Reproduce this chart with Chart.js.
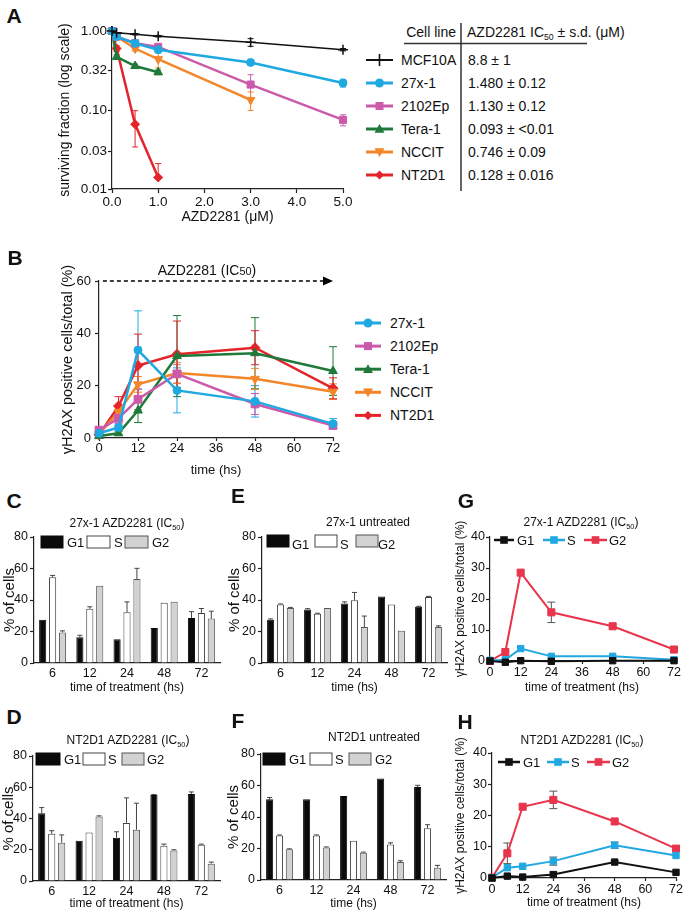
<!DOCTYPE html>
<html>
<head>
<meta charset="utf-8">
<title>AZD2281 figure</title>
<script src="https://cdn.jsdelivr.net/npm/chart.js@4/dist/chart.umd.min.js"></script>
<style>
html,body{margin:0;padding:0;background:#fff}
body{position:relative;width:686px;height:914px;overflow:hidden;font-family:'Liberation Sans',Arial,Helvetica,sans-serif;color:#111}
canvas{position:absolute}
.tx{position:absolute;white-space:nowrap;line-height:1}
.pl{position:absolute;font-weight:bold;font-size:21px;line-height:1;transform:translate(-50%,-50%)}
sub{font-size:0.62em;vertical-align:-0.35em;line-height:0}
.sm{font-size:0.78em}
#ov{position:absolute;left:0;top:0;pointer-events:none}
</style>
</head>
<body>
<svg id="ov" width="686" height="914"></svg>
<script>
// ---------------- Panel A data ----------------
const aDoses = [0, 0.1, 0.5, 1, 3, 5];
const aLines = ['MCF10A', '27x-1', '2102Ep', 'Tera-1', 'NCCIT', 'NT2D1'];
const aIC50 = ['8.8 ± 1', '1.480 ± 0.12', '1.130 ± 0.12', '0.093 ± <0.01', '0.746 ± 0.09', '0.128 ± 0.016'];
const survMCF10A = [1.00, 0.95, 0.91, 0.86, 0.72, 0.58];
const survMCF10AErr = [0, 0, 0.02, 0.02, 0.08, 0.02];
const surv27x1 = [1.00, 0.85, 0.70, 0.58, 0.40, 0.22];
const surv27x1Err = [0, 0, 0.04, 0.05, 0.03, 0.025];
const surv2102Ep = [1.00, 0.85, 0.70, 0.63, 0.21, 0.075];
const surv2102EpErr = [0, 0, 0.03, 0.05, 0.07, 0.012];
const survTera1 = [1.00, 0.47, 0.36, 0.30, null, null];
const survTera1Err = [0, 0.03, 0.02, 0.02, null, null];
const survNCCIT = [1.00, 0.85, 0.60, 0.44, 0.134, null];
const survNCCITErr = [0, 0.05, 0.04, 0.10, 0.035, null];
const survNT2D1 = [1.00, 0.60, 0.066, 0.014, null, null];
const survNT2D1Err = [0, 0.05, 0.032, 0.007, null, null];
const aYTicks = [0.01, 0.03, 0.10, 0.32, 1.00];
const aYTickLabels = ['0.01', '0.03', '0.10', '0.32', '1.00'];

// ---------------- Panel B data ----------------
const bTimes = [0, 6, 12, 24, 48, 72];
const bLines = ['27x-1', '2102Ep', 'Tera-1', 'NCCIT', 'NT2D1'];
const gh27x1 = [1.8, 4.0, 33.6, 18.2, 14.0, 5.4];
const gh27x1Err = [0.5, 1.0, 15.0, 8.6, 6.0, 2.0];
const gh2102Ep = [3.0, 7.5, 14.8, 24.5, 13.0, 4.8];
const gh2102EpErr = [0.8, 2.0, 4.0, 3.5, 4.0, 1.0];
const ghTera1 = [0.8, 1.8, 10.5, 31.3, 32.4, 25.6];
const ghTera1Err = [0.3, 0.8, 4.6, 15.5, 13.6, 9.3];
const ghNCCIT = [1.5, 10.0, 20.5, 24.8, 22.6, 17.7];
const ghNCCITErr = [0.5, 2.0, 3.0, 4.0, 4.0, 3.0];
const ghNT2D1 = [1.2, 12.2, 27.7, 32.0, 34.5, 19.0];
const ghNT2D1Err = [0.5, 3.6, 12.0, 12.7, 6.5, 4.0];

// ---------------- Panels C-F data (cell cycle, % of cells) ----------------
const timeCats = ['6', '12', '24', '48', '72'];
const phases = ['G1', 'S', 'G2'];
const cG1 = [27.5, 16.3, 15.1, 22.2, 28.6];
const cG1Err = [0, 1.3, 0, 0, 4.0];
const cS = [54.4, 34.4, 32.3, 38.3, 31.8];
const cSErr = [1.2, 1.3, 6.5, 0, 2.8];
const cG2 = [19.4, 49.0, 53.3, 38.9, 28.2];
const cG2Err = [1.0, 0, 6.8, 0, 4.7];

const eG1 = [27.5, 34.0, 37.8, 42.2, 35.7];
const eG1Err = [0.5, 0.5, 1.0, 0, 0.3];
const eS = [37.2, 31.2, 39.8, 37.2, 41.9];
const eSErr = [0.3, 0.4, 5.0, 0, 0.4];
const eG2 = [35.0, 35.0, 22.8, 20.4, 22.8];
const eG2Err = [0.3, 0, 7.0, 0, 0.8];

const dG1 = [43.4, 25.7, 27.7, 55.1, 55.7];
const dG1Err = [3.6, 0, 3.8, 0.3, 1.3];
const dS = [30.2, 31.1, 37.2, 22.6, 23.2];
const dSErr = [2.0, 0, 16.0, 1.0, 0.4];
const dG2 = [24.5, 41.3, 32.8, 19.6, 11.1];
const dG2Err = [5.0, 0.4, 17.0, 0.4, 1.0];

const fG1 = [51.2, 51.2, 53.3, 64.4, 59.1];
const fG1Err = [1.2, 0, 0, 0, 1.0];
const fS = [28.3, 28.3, 25.0, 22.6, 32.8];
const fSErr = [0.3, 0.3, 0, 1.0, 2.3];
const fG2 = [19.5, 20.7, 17.3, 11.4, 7.8];
const fG2Err = [0.3, 0.3, 0.4, 0.8, 1.5];

// ---------------- Panels G-H data ----------------
const ghTimes = [0, 6, 12, 24, 48, 72];
const gG1 = [0, -0.4, 0.1, -0.1, 0.1, 0.1];
const gG1Err = [0, 0, 0, 0, 0, 0];
const gS = [0.2, 0.4, 4.0, 1.5, 1.5, 0.4];
const gSErr = [0, 0, 0, 0, 0, 0];
const gG2 = [0, 2.9, 28.5, 15.7, 11.2, 3.7];
const gG2Err = [0, 0, 0, 3.3, 0, 0];

const hG1 = [0, 0.6, 0.3, 1.1, 5.1, 1.8];
const hG1Err = [0, 0, 0, 0.8, 0.5, 0];
const hS = [0.1, 3.3, 3.75, 5.4, 10.5, 7.2];
const hSErr = [0, 0, 0, 1.3, 1.0, 0];
const hG2 = [0.1, 7.9, 22.8, 25.0, 18.1, 9.4];
const hG2Err = [0, 3.3, 0, 2.8, 0, 0];

// ---------------- helpers ----------------
Chart.defaults.font.family = "'Liberation Sans', Arial, Helvetica, sans-serif";
Chart.defaults.color = '#111';
Chart.defaults.animation = false;
const AXC = '#222';

const errPlugin = {
  id: 'errbars',
  beforeDatasetsDraw(chart) {
    const ctx = chart.ctx;
    const ys = chart.scales.y;
    chart.data.datasets.forEach((ds, i) => {
      const meta = chart.getDatasetMeta(i);
      ctx.save();
      ctx.strokeStyle = ds.errColor || '#444';
      ctx.lineWidth = ds.errWidth || 1;
      const cap = ds.errCap || 3;
      meta.data.forEach((el, j) => {
        const raw = ds.data[j];
        let v, e;
        if (raw && typeof raw === 'object') { v = raw.y; e = raw.e; }
        else { v = raw; e = ds.errors ? ds.errors[j] : 0; }
        if (v == null || !e) return;
        const x = el.x;
        const yv = ys.getPixelForValue(v);
        const yt = ys.getPixelForValue(v + e);
        let yb = yv, low = false;
        const lo = v - e;
        if (!ds.errUpOnly) {
          if (ys.type !== 'logarithmic' || lo >= ys.min) { yb = ys.getPixelForValue(lo); low = true; }
        }
        ctx.beginPath();
        ctx.moveTo(x, yt); ctx.lineTo(x, yb);
        ctx.moveTo(x - cap, yt); ctx.lineTo(x + cap, yt);
        if (low) { ctx.moveTo(x - cap, yb); ctx.lineTo(x + cap, yb); }
        ctx.stroke();
      });
      ctx.restore();
    });
  }
};

function axis(o) {
  const dt = o.drawTicks !== false;
  const a = {
    type: o.type, min: o.min, max: o.max,
    border: {display: true, color: AXC, width: 1.2},
    grid: {display: dt, drawOnChartArea: false, drawTicks: dt, tickLength: o.tl || 4, color: AXC, tickColor: AXC, tickWidth: 1.2},
    ticks: {font: {size: o.size}, padding: o.pad, color: '#111', maxRotation: 0, autoSkip: false},
    title: o.title ? {display: true, text: o.title, font: {size: o.tsize}, padding: 0, color: '#111'} : {display: false}
  };
  if (o.step) a.ticks.stepSize = o.step;
  if (o.offset !== undefined) a.offset = o.offset;
  return a;
}

function makeChart(g, type, datasets, scales, labels, extraPlugins) {
  const c = document.createElement('canvas');
  const W = g.cr - g.cl, H = g.cb - g.ct;
  c.style.left = g.cl + 'px'; c.style.top = g.ct + 'px';
  c.style.width = W + 'px'; c.style.height = H + 'px';
  c.width = W; c.height = H;
  document.body.appendChild(c);
  scales.x.afterFit = s => { s.height = g.cb - g.pb; };
  scales.y.afterFit = s => { s.width = g.pl - g.cl; };
  return new Chart(c, {
    type,
    data: labels ? {labels, datasets} : {datasets},
    options: {
      responsive: false, maintainAspectRatio: false, animation: false,
      layout: {padding: {top: g.pt - g.ct, right: g.cr - g.pr, left: 0, bottom: 0}},
      plugins: {legend: {display: false}, tooltip: {enabled: false}, title: {display: false}},
      scales
    },
    plugins: [errPlugin].concat(extraPlugins || [])
  });
}

function pts(xs, ys, es) {
  const out = [];
  xs.forEach((x, i) => { if (ys[i] != null) out.push({x: x, y: ys[i], e: es ? es[i] : 0}); });
  return out;
}

function lineDS(label, xs, ys, es, st) {
  return {
    label, data: pts(xs, ys, es),
    borderColor: st.color, backgroundColor: st.color, borderWidth: st.lw,
    pointStyle: st.ps, pointRotation: st.rot || 0, pointRadius: st.r,
    pointBackgroundColor: st.color, pointBorderColor: st.color, pointBorderWidth: st.pbw || 1,
    tension: 0, clip: false, spanGaps: true,
    errColor: st.ec || st.color, errWidth: 1, errCap: st.cap || 3
  };
}

const barStyles = {
  G1: {fill: '#0a0a0a', stroke: '#0a0a0a'},
  S: {fill: '#ffffff', stroke: '#444'},
  G2: {fill: '#d2d2d2', stroke: '#555'}
};
function barDS(label, vals, errs) {
  const st = barStyles[label];
  return {label, data: vals, errors: errs, backgroundColor: st.fill, borderColor: st.stroke, borderWidth: 1,
    errUpOnly: true, errColor: '#444', errCap: 2.5, barPercentage: 0.72, categoryPercentage: 0.8};
}

function T(x, y, html, size, anchor, weight) {
  const d = document.createElement('div');
  d.className = 'tx'; d.innerHTML = html;
  d.style.fontSize = size + 'px';
  d.style.left = x + 'px'; d.style.top = y + 'px';
  if (weight) d.style.fontWeight = weight;
  const tx = anchor === 'l' ? '0' : (anchor === 'r' ? '-100%' : '-50%');
  d.style.transform = 'translate(' + tx + ',-50%)';
  document.body.appendChild(d);
}
function P(x, y, ch) {
  const d = document.createElement('div');
  d.className = 'pl'; d.textContent = ch;
  d.style.left = x + 'px'; d.style.top = y + 'px';
  document.body.appendChild(d);
}

let svg = '';
function svgMarker(style, x, y, r, color, lw) {
  switch (style) {
    case 'circle': return `<circle cx="${x}" cy="${y}" r="${r}" fill="${color}"/>`;
    case 'rect': return `<rect x="${x - r}" y="${y - r}" width="${2 * r}" height="${2 * r}" fill="${color}"/>`;
    case 'triangle': return `<polygon points="${x},${y - r} ${x + r},${y + r * 0.75} ${x - r},${y + r * 0.75}" fill="${color}"/>`;
    case 'tridown': return `<polygon points="${x},${y + r} ${x + r},${y - r * 0.75} ${x - r},${y - r * 0.75}" fill="${color}"/>`;
    case 'diamond': return `<polygon points="${x},${y - r} ${x + r},${y} ${x},${y + r} ${x - r},${y}" fill="${color}"/>`;
    case 'cross': return `<path d="M${x} ${y - r}V${y + r}M${x - r} ${y}H${x + r}" stroke="${color}" stroke-width="${lw}"/>`;
  }
  return '';
}
function legLine(x1, x2, y, color, lw, style, r) {
  svg += `<line x1="${x1}" y1="${y}" x2="${x2}" y2="${y}" stroke="${color}" stroke-width="${lw}"/>`;
  svg += svgMarker(style, (x1 + x2) / 2, y, r, color, 1.6);
}
function legBox(x, y, w, h, name) {
  const st = barStyles[name];
  svg += `<rect x="${x}" y="${y}" width="${w}" height="${h}" fill="${st.fill}" stroke="${st.stroke}" stroke-width="1"/>`;
}

// ---------------- Panel A ----------------
const aStyles = [
  {color: '#111111', lw: 1.5, ps: 'cross', r: 5, pbw: 1.5, lr: 6, ls: 'cross'},
  {color: '#1ea9e1', lw: 2.5, ps: 'circle', r: 4, lr: 4.5, ls: 'circle'},
  {color: '#cc5aab', lw: 2.5, ps: 'rect', r: 5, lr: 4, ls: 'rect'},
  {color: '#1f7a3a', lw: 2.5, ps: 'triangle', r: 5, lr: 5, ls: 'triangle'},
  {color: '#f4862a', lw: 2.5, ps: 'triangle', rot: 180, r: 5, lr: 5, ls: 'tridown'},
  {color: '#e4242b', lw: 2.5, ps: 'rectRot', r: 4.5, lr: 4.5, ls: 'diamond'}
];
const aY = [survMCF10A, surv27x1, surv2102Ep, survTera1, survNCCIT, survNT2D1];
const aE = [survMCF10AErr, surv27x1Err, surv2102EpErr, survTera1Err, survNCCITErr, survNT2D1Err];
const aGeo = {cl: 57, ct: 12, cr: 360, cb: 226, pl: 112, pt: 31, pr: 343, pb: 189};
const aX = axis({type: 'linear', min: 0, max: 5, step: 1, size: 13.5, pad: 1, tl: 4, title: 'AZD2281 (\u03BCM)', tsize: 14});
aX.ticks.callback = v => Number(v).toFixed(1);
const aYAx = axis({type: 'logarithmic', min: 0.01, max: 1, size: 13.5, pad: 1, tl: 4, title: 'surviving fraction (log scale)', tsize: 14});
aYAx.afterBuildTicks = s => { s.ticks = aYTicks.map(v => ({value: v})); };
aYAx.ticks.callback = v => { const i = aYTicks.indexOf(v); return i >= 0 ? aYTickLabels[i] : ''; };
makeChart(aGeo, 'line', aLines.map((n, i) => lineDS(n, aDoses, aY[i], aE[i], aStyles[i])), {x: aX, y: aYAx});

// table legend for A
T(456, 32, 'Cell line', 14, 'r');
T(467, 32, 'AZD2281 IC<sub>50</sub> \u00B1 s.d. (\u03BCM)', 14, 'l');
svg += `<line x1="461" y1="23" x2="461" y2="191" stroke="#333" stroke-width="1.5"/>`;
svg += `<line x1="404" y1="43.5" x2="587" y2="43.5" stroke="#333" stroke-width="1.5"/>`;
aLines.forEach((n, i) => {
  const y = 60 + 23 * i;
  const st = aStyles[i];
  legLine(366, 393, y, st.color, st.lw + 0.5, st.ls, st.lr);
  T(401, y, n, 14, 'l');
  T(468, y, aIC50[i], 14, 'l');
});

// ---------------- Panel B ----------------
const bStyles = aStyles.slice(1).map(s => Object.assign({}, s, {r: s.ps === 'circle' ? 4 : (s.ps === 'rect' ? 5.5 : 5)}));
const bY = [gh27x1, gh2102Ep, ghTera1, ghNCCIT, ghNT2D1];
const bE = [gh27x1Err, gh2102EpErr, ghTera1Err, ghNCCITErr, ghNT2D1Err];
const bGeo = {cl: 59, ct: 262, cr: 348, cb: 478, pl: 99, pt: 281, pr: 333, pb: 438};
const arrowPlugin = {
  id: 'treatArrow',
  afterDraw(chart) {
    const {ctx} = chart; const xs = chart.scales.x, ys = chart.scales.y;
    const x1 = xs.getPixelForValue(1.2), x2 = xs.getPixelForValue(72), yy = ys.getPixelForValue(60);
    ctx.save();
    ctx.strokeStyle = '#000'; ctx.lineWidth = 1.5; ctx.setLineDash([4, 3]);
    ctx.beginPath(); ctx.moveTo(x1, yy); ctx.lineTo(x2 - 8, yy); ctx.stroke();
    ctx.setLineDash([]); ctx.fillStyle = '#000';
    ctx.beginPath(); ctx.moveTo(x2, yy); ctx.lineTo(x2 - 10, yy - 4.5); ctx.lineTo(x2 - 10, yy + 4.5); ctx.closePath(); ctx.fill();
    ctx.restore();
  }
};
makeChart(bGeo, 'line',
  bLines.map((n, i) => Object.assign(lineDS(n, bTimes, bY[i], bE[i], bStyles[i]), {errColor: bStyles[i].color, errCap: 4})),
  {
    x: axis({type: 'linear', min: 0, max: 72, step: 12, size: 13, pad: 0, tl: 3, title: 'time (hs)', tsize: 13}),
    y: axis({type: 'linear', min: 0, max: 60, step: 20, size: 13, pad: 4, tl: 4, title: '\u03B3H2AX positive cells/total (%)', tsize: 14.5})
  }, null, [arrowPlugin]);
T(207, 270, 'AZD2281 (IC<span class="sm">50</span>)', 14, 'c');
bLines.forEach((n, i) => {
  const y = 323 + 23.1 * i;
  const st = aStyles[i + 1];
  legLine(355, 381, y, st.color, 3, st.ls, st.lr);
  T(390, y, n, 14, 'l');
});

// ---------------- Panels C, E, D, F (bars) ----------------
function barPanel(g, G1, G1e, S, Se, G2, G2e, xTitle) {
  makeChart(g, 'bar', [barDS('G1', G1, G1e), barDS('S', S, Se), barDS('G2', G2, G2e)], {
    x: axis({type: 'category', size: 12.5, pad: 3, drawTicks: false, title: xTitle, tsize: 12}),
    y: axis({type: 'linear', min: 0, max: 80, step: 20, size: 12.5, pad: 2, tl: 4, title: '% of cells', tsize: 15})
  }, timeCats);
}
barPanel({cl: 1, ct: 525, cr: 232, cb: 695, pl: 34, pt: 537, pr: 220, pb: 663}, cG1, cG1Err, cS, cSErr, cG2, cG2Err, 'time of treatment (hs)');
barPanel({cl: 226, ct: 525, cr: 458, cb: 695, pl: 262, pt: 537, pr: 447, pb: 663}, eG1, eG1Err, eS, eSErr, eG2, eG2Err, 'time (hs)');
barPanel({cl: 0, ct: 742, cr: 232, cb: 911, pl: 33, pt: 756, pr: 220, pb: 881}, dG1, dG1Err, dS, dSErr, dG2, dG2Err, 'time of treatment (hs)');
barPanel({cl: 225, ct: 742, cr: 458, cb: 911, pl: 261, pt: 754, pr: 446, pb: 880}, fG1, fG1Err, fS, fSErr, fG2, fG2Err, 'time (hs)');

function barLegend(items, y) {
  items.forEach(it => {
    legBox(it.bx, y - 6, it.bw, 12, it.name);
    T(it.tx, y + (it.dy || 0), it.name, 13, 'l');
  });
}
barLegend([{name: 'G1', bx: 41, bw: 22, tx: 67}, {name: 'S', bx: 87, bw: 23, tx: 114}, {name: 'G2', bx: 125, bw: 23, tx: 152}], 542);
barLegend([{name: 'G1', bx: 267, bw: 22, tx: 292, dy: 3}, {name: 'S', bx: 315, bw: 22, tx: 340, dy: 3}, {name: 'G2', bx: 356, bw: 22, tx: 378, dy: 3}], 541);
barLegend([{name: 'G1', bx: 36, bw: 24, tx: 64}, {name: 'S', bx: 83, bw: 22, tx: 108}, {name: 'G2', bx: 122, bw: 22, tx: 147}], 759);
barLegend([{name: 'G1', bx: 263, bw: 22, tx: 289}, {name: 'S', bx: 310, bw: 22, tx: 335}, {name: 'G2', bx: 349, bw: 22, tx: 375}], 759);

T(127, 523, '27x-1 AZD2281 (IC<sub>50</sub>)', 12, 'c');
T(368, 522, '27x-1 untreated', 12, 'c');
T(128, 740, 'NT2D1 AZD2281 (IC<sub>50</sub>)', 12, 'c');
T(374, 737, 'NT2D1 untreated', 12, 'c');

// ---------------- Panels G, H (lines) ----------------
const ghStyles = {
  G1: {color: '#111111', lw: 2, ps: 'rect', r: 4.5},
  S: {color: '#21a8e2', lw: 2, ps: 'rect', r: 4.5},
  G2: {color: '#e8354b', lw: 2, ps: 'rect', r: 5}
};
function ghPanel(g, G1, G1e, S, Se, G2, G2e) {
  const mk = (n, y, e) => Object.assign(lineDS(n, ghTimes, y, e, ghStyles[n]), {errColor: '#555', errCap: 4});
  makeChart(g, 'line', [mk('G1', G1, G1e), mk('S', S, Se), mk('G2', G2, G2e)], {
    x: axis({type: 'linear', min: 0, max: 72, step: 12, size: 12.5, pad: 1, tl: 3, title: 'time of treatment (hs)', tsize: 12}),
    y: axis({type: 'linear', min: 0, max: 40, step: 10, size: 12.5, pad: 1, tl: 4, title: '\u03B3H2AX positive cells/total (%)', tsize: 12})
  });
}
ghPanel({cl: 453, ct: 505, cr: 686, cb: 695, pl: 490, pt: 537, pr: 674, pb: 661}, gG1, gG1Err, gS, gSErr, gG2, gG2Err);
ghPanel({cl: 453, ct: 718, cr: 686, cb: 910, pl: 492, pt: 753, pr: 676, pb: 878}, hG1, hG1Err, hS, hSErr, hG2, hG2Err);

function ghLegend(items, y) {
  items.forEach(it => {
    const st = ghStyles[it.name];
    legLine(it.x1, it.x2, y, st.color, 2.5, 'rect', 3.8);
    T(it.tx, y, it.name, 13, 'l');
  });
}
ghLegend([{name: 'G1', x1: 494, x2: 514, tx: 517}, {name: 'S', x1: 543, x2: 565, tx: 567}, {name: 'G2', x1: 584, x2: 607, tx: 609}], 540);
ghLegend([{name: 'G1', x1: 498, x2: 520, tx: 523}, {name: 'S', x1: 547, x2: 569, tx: 571}, {name: 'G2', x1: 587, x2: 610, tx: 612}], 762);

T(581, 522, '27x-1 AZD2281 (IC<sub>50</sub>)', 12, 'c');
T(582, 740, 'NT2D1 AZD2281 (IC<sub>50</sub>)', 12, 'c');

// ---------------- panel letters ----------------
P(14, 15, 'A'); P(15, 257, 'B'); P(14, 500, 'C'); P(238, 495, 'E');
P(466, 500, 'G'); P(14, 716, 'D'); P(238, 720, 'F'); P(465, 721, 'H');

document.getElementById('ov').innerHTML = svg;
</script>
</body>
</html>
